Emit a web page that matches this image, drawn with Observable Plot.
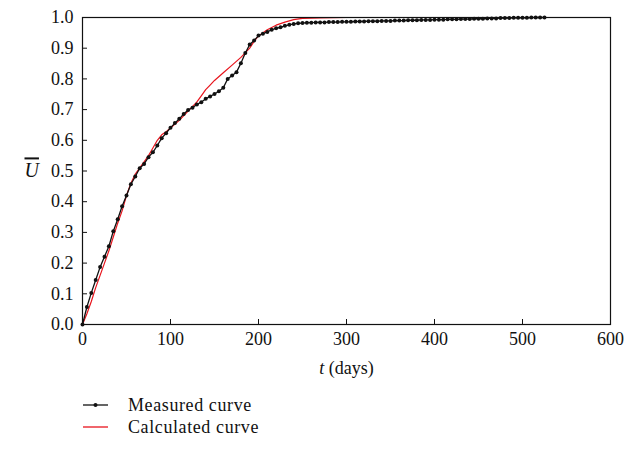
<!DOCTYPE html>
<html>
<head>
<meta charset="utf-8">
<script src="https://cdn.jsdelivr.net/npm/d3@7"></script>
<script src="https://cdn.jsdelivr.net/npm/@observablehq/plot@0.6"></script>
<style>
  body { margin: 0; background: #fff; font-family: "Liberation Serif", serif; }
  #chart svg, #chart svg text { font-family: "Liberation Serif", serif !important; }
  #legend { padding-left: 83px; padding-top: 9px; font-size: 18px; letter-spacing: 0.6px; color: #111; }
  .row { display: flex; align-items: center; height: 22px; }
  .row svg { margin-right: 20px; }
</style>
</head>
<body>
<div id="chart"></div>
<div id="legend"></div>
<script>
const measuredDays = [0,5,10,15,20,25,30,35,40,45,50,55,60,65,70,75,80,85,90,95,100,105,110,115,120,125,130,135,140,145,150,155,160,165,170,175,180,185,190,195,200,205,210,215,220,225,230,235,240,245,250,255,260,265,270,275,280,285,290,295,300,305,310,315,320,325,330,335,340,345,350,355,360,365,370,375,380,385,390,395,400,405,410,415,420,425,430,435,440,445,450,455,460,465,470,475,480,485,490,495,500,505,510,515,520,525];
const measuredU = [0.000,0.057,0.103,0.145,0.187,0.221,0.255,0.304,0.343,0.385,0.420,0.457,0.482,0.509,0.523,0.545,0.561,0.583,0.607,0.623,0.641,0.656,0.670,0.686,0.699,0.706,0.717,0.724,0.735,0.743,0.751,0.760,0.771,0.800,0.811,0.822,0.851,0.884,0.912,0.925,0.941,0.947,0.953,0.960,0.965,0.968,0.973,0.976,0.979,0.981,0.982,0.983,0.983,0.984,0.984,0.984,0.985,0.985,0.985,0.986,0.986,0.986,0.987,0.987,0.987,0.988,0.988,0.988,0.989,0.989,0.989,0.990,0.990,0.990,0.991,0.991,0.991,0.992,0.992,0.992,0.993,0.993,0.993,0.994,0.994,0.994,0.995,0.995,0.995,0.996,0.996,0.996,0.997,0.997,0.997,0.998,0.998,0.998,0.999,0.999,0.999,0.999,1.000,1.000,1.000,1.000];

const calcDays = [0,5,10,15,20,25,30,35,40,45,50,55,60,65,70,75,80,85,90,95,100,110,120,130,135,140,145,150,160,170,180,190,195,200,210,220,230,240,250,270,300,400,525];
const calcU = [0,0.035,0.075,0.12,0.16,0.2,0.24,0.285,0.33,0.37,0.42,0.46,0.49,0.51,0.53,0.55,0.575,0.6,0.618,0.628,0.64,0.665,0.695,0.725,0.745,0.765,0.78,0.795,0.82,0.845,0.87,0.9,0.922,0.94,0.96,0.975,0.985,0.993,0.997,0.999,1.0,1.0,1.0];

const xTicks = [0,100,200,300,400,500,600];
const yTicks = [0,0.1,0.2,0.3,0.4,0.5,0.6,0.7,0.8,0.9,1.0];

const measured = measuredDays.map((t, i) => ({t, u: measuredU[i]}));
const calculated = calcDays.map((t, i) => ({t, u: calcU[i]}));

const W = 639, H = 385, mT = 17, mB = 61, mL = 82, mR = 29;

const plot = Plot.plot({
  width: W, height: H,
  marginTop: mT, marginBottom: mB, marginLeft: mL, marginRight: mR,
  style: "font-family: 'Liberation Serif', serif; font-size: 18px; color: #111; background: #fff;",
  x: { domain: [0, 600], ticks: xTicks },
  y: { domain: [0, 1], ticks: yTicks },
  marks: [
    Plot.axisX(xTicks, { tickSize: 0, tickPadding: 8, tickFormat: d => String(d), label: null, fontSize: 18 }),
    Plot.axisY(yTicks, { tickSize: 0, tickPadding: 9, tickFormat: d => d.toFixed(1), label: null, fontSize: 18 }),
    Plot.tickX(xTicks.slice(1, -1), { x: d => d, insetTop: (H - mT - mB) - 5, stroke: "#111", strokeWidth: 1 }),
    Plot.tickY(yTicks.slice(1, -1), { y: d => d, insetRight: (W - mL - mR) - 5, stroke: "#111", strokeWidth: 1 }),
    Plot.line(calculated, { x: "t", y: "u", stroke: "#e8141c", strokeWidth: 1.2 }),
    Plot.line(measured, { x: "t", y: "u", stroke: "#111", strokeWidth: 1.3 }),
    Plot.dot(measured, { x: "t", y: "u", r: 2, fill: "#111", stroke: "none" }),
    Plot.frame({ stroke: "#111", strokeWidth: 1.2 }),
    Plot.text(["U"], { frameAnchor: "left", dx: -58, text: d => d, fontStyle: "italic", fontSize: 20, className: "ulabel" }),
    Plot.text(["t (days)"], { frameAnchor: "bottom", dy: 49, text: d => d, fontSize: 18, className: "xlabel" })
  ]
});

document.getElementById("chart").appendChild(plot);

// style the axis labels
d3.select(plot).selectAll(".ulabel text").style("text-decoration", "overline");
d3.select(plot).selectAll(".xlabel text").each(function() {
  const t = d3.select(this);
  t.text(null);
  t.append("tspan").attr("font-style", "italic").text("t");
  t.append("tspan").text(" (days)");
});

// legend
const legendItems = [
  { label: "Measured curve", color: "#111", dot: true },
  { label: "Calculated curve", color: "#e8141c", dot: false }
];
const legend = d3.select("#legend");
legendItems.forEach(item => {
  const row = legend.append("div").attr("class", "row");
  const s = row.append("svg").attr("width", 25).attr("height", 10);
  s.append("line").attr("x1", 0).attr("x2", 25).attr("y1", 5).attr("y2", 5)
    .attr("stroke", item.color).attr("stroke-width", 1.3);
  if (item.dot) s.append("circle").attr("cx", 12.5).attr("cy", 5).attr("r", 2).attr("fill", item.color);
  row.append("span").text(item.label);
});
</script>
</body>
</html>
